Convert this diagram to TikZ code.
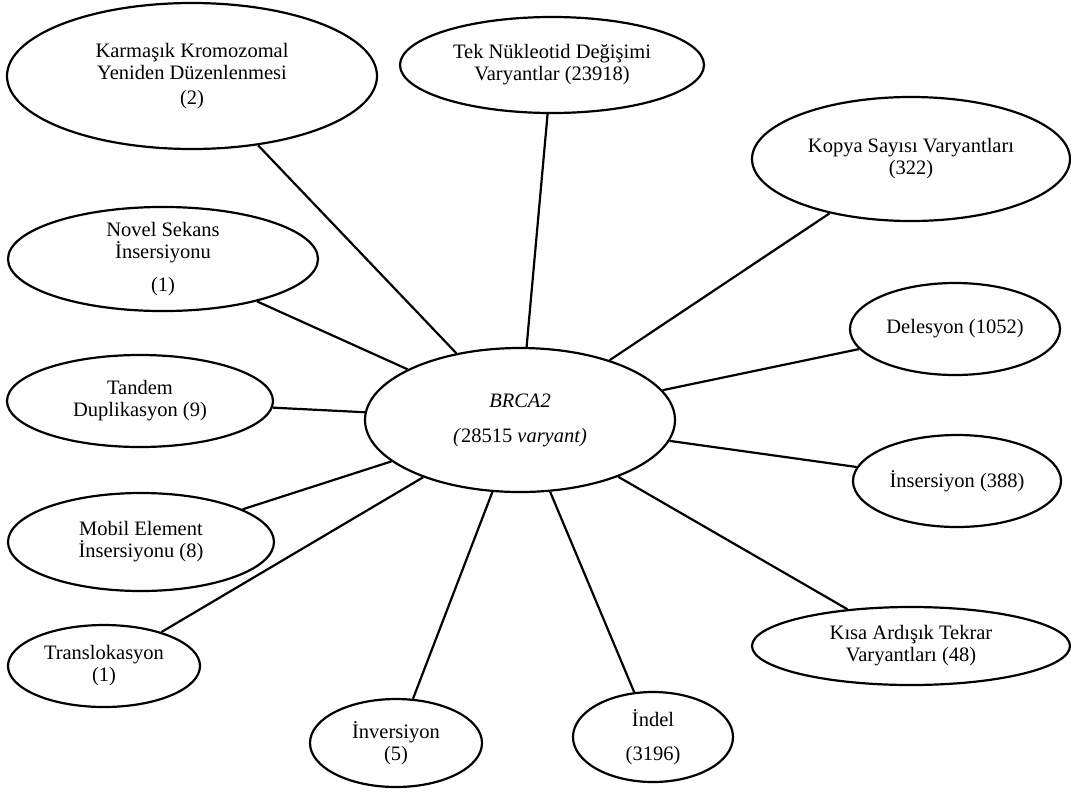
\documentclass[tikz,border=0pt]{standalone}
\usepackage{fontspec}
\setmainfont{Liberation Serif}
\usetikzlibrary{shapes.geometric}
\begin{document}
\begin{tikzpicture}[x=1pt,y=-1pt,
		varbox/.style={draw,ellipse,line width=2.2pt,inner sep=0pt,align=center,
			font=\fontsize{20.5}{22}\selectfont},
		link/.style={line width=2.2pt}]
				\useasboundingbox (0,0) rectangle (1071,796);
				% centre
				\node[varbox,minimum width=310,minimum height=144] (brca) at (520,420)
					{\textit{BRCA2}\\[13pt]\textit{(}28515 \textit{varyant)}};
				% left side
				\node[varbox,minimum width=370,minimum height=146] (karm) at (192,76)
					{Karmaşık Kromozomal\\Yeniden Düzenlenmesi\\[3pt](2)};
				\node[varbox,minimum width=310,minimum height=102] (novel) at (163,259)
					{Novel Sekans\\İnsersiyonu\\[11pt](1)};
				\node[varbox,minimum width=266,minimum height=92] (tandem) at (140,401)
					{Tandem\\Duplikasyon (9)};
				\node[varbox,minimum width=266,minimum height=98] (mobil) at (141,542)
					{Mobil Element\\İnsersiyonu (8)};
				\node[varbox,minimum width=192,minimum height=82] (transl) at (104,666)
					{Translokasyon\\(1)};
				% bottom
				\node[varbox,minimum width=172,minimum height=88] (inver) at (396,743)
					{İnversiyon\\(5)};
				\node[varbox,minimum width=160,minimum height=90] (indel) at (653,737)
					{İndel\\[12pt](3196)};
				% top and right side
				\node[varbox,minimum width=304,minimum height=96] (tek) at (552,65)
					{Tek Nükleotid Değişimi\\Varyantlar (23918)};
				\node[varbox,minimum width=318,minimum height=124] (kopya) at (911,159)
					{Kopya Sayısı Varyantları\\(322)};
				\node[varbox,minimum width=210,minimum height=92] (deles) at (955,329)
					{Delesyon (1052)};
				\node[varbox,minimum width=208,minimum height=92] (inser) at (957,481)
					{İnsersiyon (388)};
				\node[varbox,minimum width=318,minimum height=78] (kisa) at (911,646)
					{Kısa Ardışık Tekrar\\Varyantları (48)};
				% links
				\foreach \leaf in {karm,novel,tandem,mobil,transl,inver,indel,tek,kopya,deles,inser,kisa}
					\draw[link] (brca) -- (\leaf);
			\end{tikzpicture}
\end{document}
